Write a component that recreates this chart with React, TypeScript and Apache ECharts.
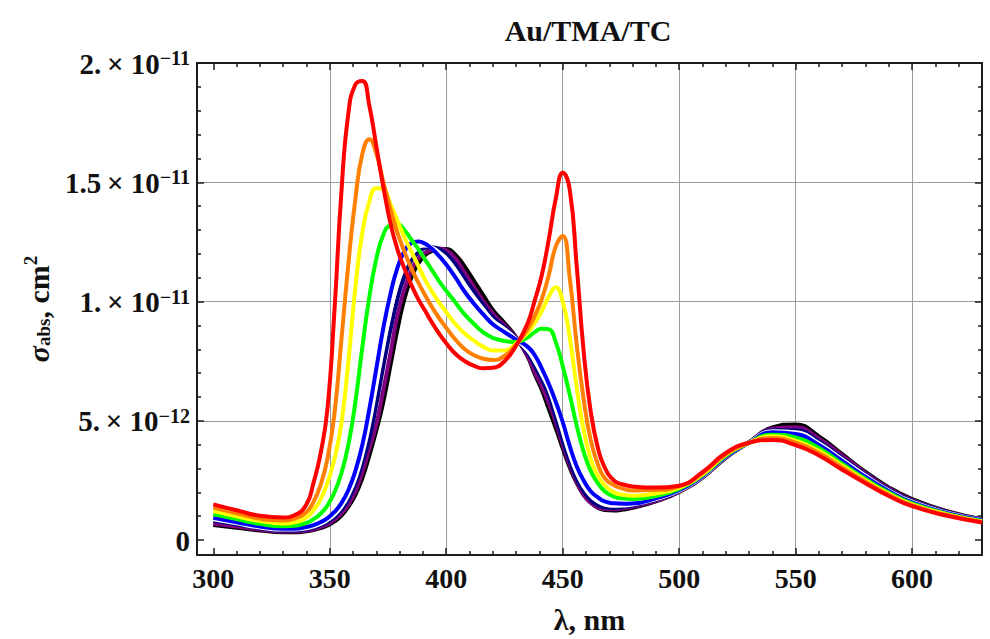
import React, { useEffect, useRef } from 'react';
import * as echarts from 'echarts';

// wavelength, nm
const wavelengths = [300, 310, 320, 330, 335, 340, 343, 346, 349, 352, 355, 358, 361, 364, 367, 370, 373, 376, 379, 382, 385, 388, 391, 394, 397, 400, 404, 408, 412, 416, 420, 425, 430, 435, 438, 441, 444, 447, 450, 453, 456, 459, 462, 465, 468, 472, 476, 480, 490, 500, 510, 520, 530, 540, 550, 560, 570, 580, 590, 600, 615, 630];

// absorption cross-section, units of 1e-12 cm^2
const sigmaRed = [1.50, 1.25, 1.02, 0.95, 1.05, 1.5, 2.4, 3.6, 5.5, 9.6, 14.6, 17.9, 19.1, 19.25, 18.2, 16.5, 14.8, 13.3, 12.2, 11.4, 10.7, 10.1, 9.6, 9.1, 8.65, 8.25, 7.8, 7.5, 7.3, 7.2, 7.22, 7.5, 8.15, 9.1, 10.05, 11.1, 12.6, 14.3, 15.4, 14.7, 11.5, 7.9, 5.4, 3.9, 3.05, 2.5, 2.33, 2.25, 2.2, 2.28, 2.85, 3.65, 4.08, 4.2, 3.98, 3.55, 2.95, 2.38, 1.85, 1.42, 1.02, 0.74];
const sigmaOrange = [1.36, 1.12, 0.9, 0.82, 0.9, 1.18, 1.6, 2.3, 3.4, 5.3, 8.4, 11.6, 14.3, 16.2, 16.8, 16.2, 15.0, 13.9, 12.9, 12.1, 11.4, 10.8, 10.25, 9.75, 9.3, 8.9, 8.4, 8.0, 7.75, 7.6, 7.55, 7.72, 8.2, 8.85, 9.4, 10.1, 11.1, 12.3, 12.75, 11.0, 8.2, 5.9, 4.2, 3.2, 2.6, 2.3, 2.15, 2.08, 2.1, 2.25, 2.8, 3.6, 4.08, 4.28, 4.08, 3.65, 3.04, 2.45, 1.9, 1.46, 1.05, 0.76];
const sigmaYellow = [1.22, 1.0, 0.8, 0.7, 0.75, 0.95, 1.25, 1.7, 2.4, 3.4, 4.9, 7.5, 10.6, 12.9, 14.2, 14.75, 14.7, 14.1, 13.4, 12.7, 12.1, 11.5, 10.9, 10.4, 9.95, 9.55, 9.05, 8.65, 8.35, 8.1, 7.95, 7.95, 8.25, 8.7, 9.1, 9.6, 10.2, 10.6, 10.0, 8.5, 6.4, 4.6, 3.4, 2.7, 2.3, 2.0, 1.9, 1.86, 1.95, 2.2, 2.75, 3.57, 4.08, 4.35, 4.17, 3.74, 3.12, 2.5, 1.94, 1.5, 1.08, 0.78];
const sigmaGreen = [1.08, 0.88, 0.68, 0.58, 0.6, 0.72, 0.88, 1.1, 1.45, 2.0, 2.8, 4.0, 5.8, 8.1, 10.2, 11.8, 12.8, 13.2, 13.25, 13.0, 12.6, 12.2, 11.75, 11.3, 10.85, 10.45, 9.95, 9.45, 9.05, 8.7, 8.48, 8.35, 8.3, 8.5, 8.72, 8.86, 8.84, 8.3, 7.3, 6.1, 4.8, 3.7, 2.9, 2.4, 2.05, 1.82, 1.74, 1.72, 1.85, 2.15, 2.72, 3.53, 4.08, 4.42, 4.3, 3.86, 3.2, 2.56, 1.99, 1.54, 1.1, 0.8];
const sigmaBlue = [0.93, 0.75, 0.57, 0.48, 0.48, 0.55, 0.63, 0.75, 0.92, 1.18, 1.55, 2.1, 2.9, 4.0, 5.5, 7.2, 8.9, 10.3, 11.4, 12.1, 12.45, 12.52, 12.42, 12.2, 11.9, 11.55, 11.0, 10.4, 9.9, 9.45, 9.05, 8.72, 8.4, 8.1, 7.75, 7.2, 6.55, 5.8, 4.95, 3.95, 3.1, 2.5, 2.05, 1.8, 1.62, 1.54, 1.52, 1.53, 1.75, 2.1, 2.68, 3.5, 4.08, 4.52, 4.45, 3.99, 3.32, 2.65, 2.05, 1.58, 1.13, 0.83];
const sigmaWhite = [0.87, 0.7, 0.53, 0.44, 0.44, 0.5, 0.57, 0.68, 0.84, 1.07, 1.4, 1.9, 2.6, 3.6, 4.9, 6.5, 8.1, 9.55, 10.75, 11.6, 12.1, 12.3, 12.35, 12.25, 12.05, 11.8, 11.3, 10.7, 10.15, 9.65, 9.2, 8.85, 8.43, 7.95, 7.5, 6.95, 6.35, 5.5, 4.55, 3.6, 2.82, 2.25, 1.86, 1.63, 1.49, 1.44, 1.45, 1.49, 1.72, 2.07, 2.66, 3.49, 4.09, 4.56, 4.52, 4.06, 3.38, 2.7, 2.08, 1.61, 1.15, 0.84];
const sigmaNavy = [0.82, 0.66, 0.5, 0.4, 0.4, 0.45, 0.52, 0.62, 0.76, 0.97, 1.27, 1.7, 2.35, 3.25, 4.25, 5.7, 7.3, 8.8, 10.1, 11.05, 11.7, 12.05, 12.25, 12.28, 12.2, 12.0, 11.55, 10.95, 10.4, 9.85, 9.35, 8.92, 8.45, 7.85, 7.3, 6.75, 6.1, 5.15, 4.2, 3.3, 2.58, 2.04, 1.68, 1.47, 1.37, 1.35, 1.39, 1.45, 1.7, 2.05, 2.65, 3.48, 4.1, 4.6, 4.6, 4.13, 3.44, 2.74, 2.12, 1.64, 1.17, 0.85];
const sigmaPurple = [0.7, 0.57, 0.44, 0.36, 0.36, 0.4, 0.46, 0.55, 0.67, 0.85, 1.12, 1.5, 2.05, 2.85, 3.85, 4.85, 6.3, 7.8, 9.4, 10.5, 11.3, 11.8, 12.05, 12.18, 12.22, 12.15, 11.8, 11.2, 10.6, 10.0, 9.5, 9.0, 8.48, 7.72, 7.05, 6.45, 5.75, 4.95, 4.0, 3.15, 2.45, 1.9, 1.58, 1.38, 1.3, 1.29, 1.33, 1.4, 1.65, 2.03, 2.63, 3.46, 4.1, 4.67, 4.73, 4.25, 3.54, 2.81, 2.17, 1.68, 1.19, 0.86];
const sigmaBlack = [0.63, 0.52, 0.4, 0.33, 0.33, 0.37, 0.42, 0.5, 0.61, 0.78, 1.03, 1.4, 1.9, 2.6, 3.55, 4.6, 5.8, 7.3, 8.8, 10.1, 11.0, 11.6, 11.95, 12.12, 12.2, 12.2, 11.95, 11.45, 10.85, 10.25, 9.65, 9.1, 8.5, 7.68, 6.95, 6.3, 5.5, 4.7, 3.85, 3.05, 2.4, 1.9, 1.57, 1.36, 1.26, 1.24, 1.28, 1.35, 1.62, 2.02, 2.62, 3.45, 4.1, 4.72, 4.85, 4.35, 3.6, 2.86, 2.21, 1.72, 1.21, 0.87];

// drawing order: first drawn at bottom, red on top
const curveNames = ['black', 'purple', 'navy', 'white', 'blue', 'green', 'yellow', 'orange', 'red'];
const curveColors = ['#000000', '#800080', '#000080', '#ffffff', '#0000ff', '#00ff00', '#ffff00', '#ff8000', '#ff0000'];
const curveValues = [sigmaBlack, sigmaPurple, sigmaNavy, sigmaWhite, sigmaBlue, sigmaGreen, sigmaYellow, sigmaOrange, sigmaRed];

const xMajorTicks = [300, 350, 400, 450, 500, 550, 600];
const xMinorTicks = [310, 320, 330, 340, 360, 370, 380, 390, 410, 420, 430, 440, 460, 470, 480, 490, 510, 520, 530, 540, 560, 570, 580, 590, 610, 620, 630];
const yMajorTicks = [0, 5, 10, 15, 20];
const yMinorTicks = [1, 2, 3, 4, 6, 7, 8, 9, 11, 12, 13, 14, 16, 17, 18, 19];
const yTickMantissas = ['0', '5.', '1.', '1.5', '2.'];
const yTickExponents = ['', '\u221212', '\u221211', '\u221211', '\u221211'];

const TITLE = 'Au/TMA/TC';
const X_MIN = 293;
const X_MAX = 630;
const Y_MIN = -0.625;
const Y_MAX = 20;

const FONT = '"Liberation Serif", "Times New Roman", serif';
const FRAME = '#1c1c1c';
const GRID = '#9a9a9a';
const TEXT = '#111111';

function makeX(position: string, major: boolean, extra: any = {}) {
  return {
    type: 'value',
    position,
    min: X_MIN,
    max: X_MAX,
    axisLine: { show: major, onZero: false, lineStyle: { color: FRAME, width: 2 } },
    axisTick: {
      show: true,
      inside: true,
      length: major ? 7 : 4,
      customValues: major ? xMajorTicks : xMinorTicks,
      lineStyle: { color: FRAME, width: 1.5 },
    },
    axisLabel: { show: false },
    splitLine: { show: false },
    ...extra,
  };
}

function makeY(position: string, major: boolean, extra: any = {}) {
  return {
    type: 'value',
    position,
    min: Y_MIN,
    max: Y_MAX,
    axisLine: { show: major, onZero: false, lineStyle: { color: FRAME, width: 2 } },
    axisTick: {
      show: true,
      inside: true,
      length: major ? 7 : 4,
      customValues: major ? yMajorTicks : yMinorTicks,
      lineStyle: { color: FRAME, width: 1.5 },
    },
    axisLabel: { show: false },
    splitLine: { show: false },
    ...extra,
  };
}

export default function App() {
  const ref = useRef<HTMLDivElement>(null);

  useEffect(() => {
    if (!ref.current) return;
    const chart = echarts.init(ref.current, undefined, { renderer: 'svg' });

    const series = curveValues.map((vals, k) => ({
      name: curveNames[k],
      type: 'line',
      xAxisIndex: 0,
      yAxisIndex: 0,
      data: wavelengths.map((w, i) => [w, vals[i]]),
      showSymbol: false,
      smooth: 0.5,
      lineStyle: { color: curveColors[k], width: 4 },
      itemStyle: { color: curveColors[k] },
      z: 3 + k,
    }));

    const option: any = {
      animation: false,
      backgroundColor: '#ffffff',
      title: {
        text: TITLE,
        left: 583,
        top: 10,
        textAlign: 'center',
        textStyle: { fontFamily: FONT, fontWeight: 'bold', fontSize: 30, color: TEXT },
      },
      grid: { left: 197, right: 8, top: 63, bottom: 81, containLabel: false },
      xAxis: [
        makeX('bottom', true, {
          name: 'λ, nm',
          nameLocation: 'middle',
          nameGap: 49,
          nameMoveOverlap: false,
          nameTextStyle: { fontFamily: FONT, fontWeight: 'bold', fontSize: 30, color: TEXT },
          axisLabel: {
            show: true,
            customValues: xMajorTicks,
            margin: 9,
            fontFamily: FONT,
            fontWeight: 'bold',
            fontSize: 28,
            color: TEXT,
          },
          splitLine: { show: true, showMinLine: false, showMaxLine: true, lineStyle: { color: GRID, width: 1 } },
        }),
        makeX('top', true),
        makeX('bottom', false),
        makeX('top', false),
      ],
      yAxis: [
        makeY('left', true, {
          name: '{s|σ}{b|abs}{n|, cm}{p|2}',
          nameLocation: 'middle',
          nameGap: 144,
          nameMoveOverlap: false,
          nameTextStyle: {
            rich: {
              s: { fontFamily: FONT, fontStyle: 'italic', fontWeight: 'bold', fontSize: 30, color: TEXT, lineHeight: 32, verticalAlign: 'bottom' },
              b: { fontFamily: FONT, fontWeight: 'bold', fontSize: 19, color: TEXT, lineHeight: 16, verticalAlign: 'bottom' },
              n: { fontFamily: FONT, fontWeight: 'bold', fontSize: 30, color: TEXT, lineHeight: 32, verticalAlign: 'bottom' },
              p: { fontFamily: FONT, fontWeight: 'bold', fontSize: 19, color: TEXT, lineHeight: 16, verticalAlign: 'top' },
            },
          },
          axisLabel: {
            show: true,
            customValues: yMajorTicks,
            margin: 7,
            formatter: (v: number) => {
              const i = yMajorTicks.indexOf(Math.round(v * 1000) / 1000);
              if (i < 0) return '';
              if (!yTickExponents[i]) return `{m|${yTickMantissas[i]}}`;
              return `{m|${yTickMantissas[i]}\u2009× 10}{e|${yTickExponents[i]}}`;
            },
            rich: {
              m: { fontFamily: FONT, fontWeight: 'bold', fontSize: 29, color: TEXT, lineHeight: 30, verticalAlign: 'bottom' },
              e: { fontFamily: FONT, fontWeight: 'bold', fontSize: 20, color: TEXT, lineHeight: 19, verticalAlign: 'top' },
            },
          },
          splitLine: { show: true, showMinLine: false, showMaxLine: false, lineStyle: { color: GRID, width: 1 } },
        }),
        makeY('right', true),
        makeY('left', false),
        makeY('right', false),
      ],
      series,
    };

    chart.setOption(option);
    return () => chart.dispose();
  }, []);

  return <div ref={ref} style={{ width: 990, height: 639, position: 'absolute', left: 0, top: 0 }} />;
}
